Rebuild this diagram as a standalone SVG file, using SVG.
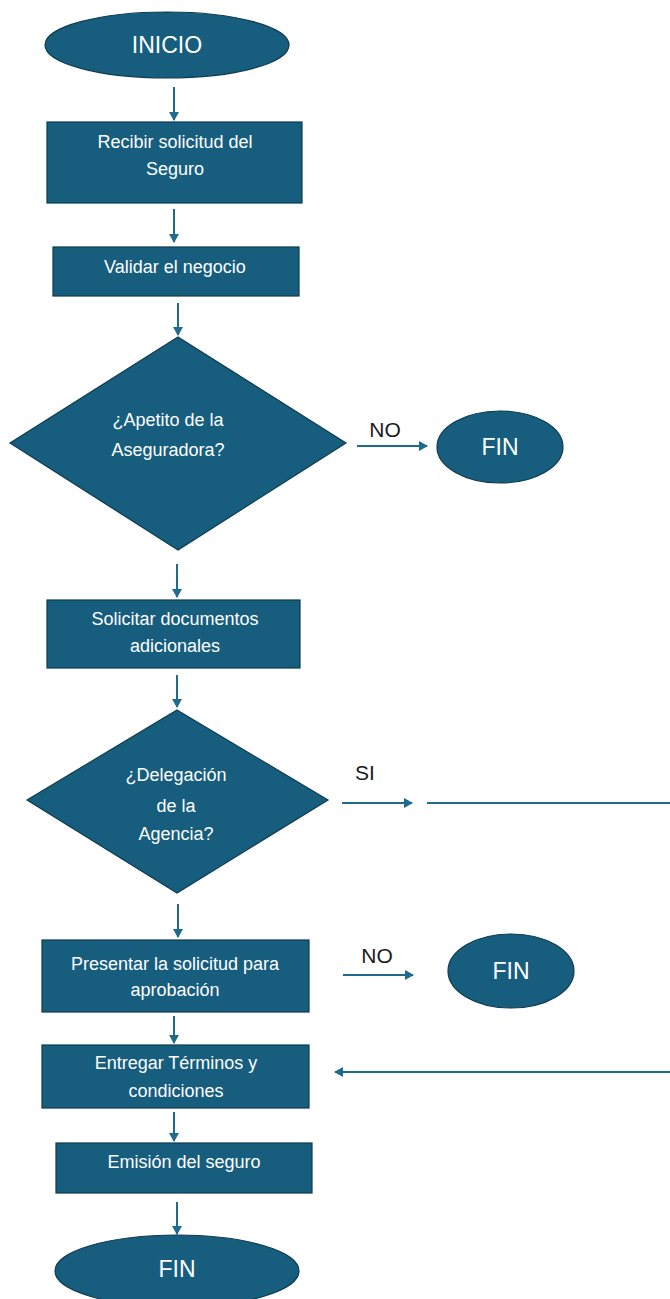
<svg xmlns="http://www.w3.org/2000/svg" width="670" height="1299" viewBox="0 0 670 1299">
<style>
.shape{fill:#165d7e;stroke:#0d3b50;stroke-width:1.2}
.t{fill:#ffffff;font-family:"Liberation Sans",Arial,sans-serif;font-size:18px;text-anchor:middle}
.big{fill:#ffffff;font-family:"Liberation Sans",Arial,sans-serif;font-size:23px;text-anchor:middle}
.lbl{fill:#1a1a1a;font-family:"Liberation Sans",Arial,sans-serif;font-size:21px;text-anchor:middle}
.c{stroke:#1f6b90;stroke-width:2;fill:none}
</style>
<defs>
<marker id="ah" markerWidth="10" markerHeight="10" refX="8" refY="5" orient="auto" markerUnits="userSpaceOnUse">
<path d="M0,0 L9,5 L0,10 Z" fill="#1f6b90"/>
</marker>
</defs>
<rect width="670" height="1299" fill="#ffffff"/>
<g id="connectors">
<line class="c" x1="174" y1="87" x2="174" y2="120" marker-end="url(#ah)"/>
<line class="c" x1="174" y1="209" x2="174" y2="242" marker-end="url(#ah)"/>
<line class="c" x1="178" y1="303" x2="178" y2="335" marker-end="url(#ah)"/>
<line class="c" x1="357" y1="446" x2="427" y2="446" marker-end="url(#ah)"/>
<line class="c" x1="177" y1="564" x2="177" y2="597" marker-end="url(#ah)"/>
<line class="c" x1="177" y1="675" x2="177" y2="707" marker-end="url(#ah)"/>
<line class="c" x1="342" y1="803" x2="412" y2="803" marker-end="url(#ah)"/>
<line class="c" x1="427" y1="803" x2="670" y2="803"/>
<line class="c" x1="178" y1="904" x2="178" y2="937" marker-end="url(#ah)"/>
<line class="c" x1="343" y1="975" x2="413" y2="975" marker-end="url(#ah)"/>
<line class="c" x1="174" y1="1016" x2="174" y2="1043" marker-end="url(#ah)"/>
<line class="c" x1="670" y1="1072" x2="335" y2="1072" marker-end="url(#ah)"/>
<line class="c" x1="174" y1="1112" x2="174" y2="1141" marker-end="url(#ah)"/>
<line class="c" x1="177" y1="1202" x2="177" y2="1234" marker-end="url(#ah)"/>
<text class="lbl" x="385" y="437">NO</text>
<text class="lbl" x="365" y="780">SI</text>
<text class="lbl" x="377" y="963">NO</text>
</g>
<g id="inicio">
<ellipse class="shape" cx="167" cy="45" rx="122" ry="33"/>
<text class="big" x="167" y="53">INICIO</text>
</g>
<g id="recibir">
<rect class="shape" x="47" y="122" width="255" height="81"/>
<text class="t" x="175" y="148">Recibir solicitud del</text>
<text class="t" x="175" y="175">Seguro</text>
</g>
<g id="validar">
<rect class="shape" x="53" y="247" width="246" height="49"/>
<text class="t" x="175" y="273">Validar el negocio</text>
</g>
<g id="apetito">
<polygon class="shape" points="178,337 346,443 178,550 10,443"/>
<text class="t" x="168" y="426">¿Apetito de la</text>
<text class="t" x="168" y="456">Aseguradora?</text>
</g>
<g id="fin1">
<ellipse class="shape" cx="500" cy="447" rx="63" ry="36"/>
<text class="big" x="500" y="455">FIN</text>
</g>
<g id="solicitar">
<rect class="shape" x="47" y="600" width="253" height="68"/>
<text class="t" x="175" y="625">Solicitar documentos</text>
<text class="t" x="175" y="652">adicionales</text>
</g>
<g id="delegacion">
<polygon class="shape" points="177,710 328,800 177,893 27,800"/>
<text class="t" x="176" y="781">¿Delegación</text>
<text class="t" x="176" y="812">de la</text>
<text class="t" x="176" y="840">Agencia?</text>
</g>
<g id="presentar">
<rect class="shape" x="42" y="940" width="267" height="72"/>
<text class="t" x="175" y="970">Presentar la solicitud para</text>
<text class="t" x="175" y="996">aprobación</text>
</g>
<g id="fin2">
<ellipse class="shape" cx="511" cy="971" rx="63" ry="37"/>
<text class="big" x="511" y="979">FIN</text>
</g>
<g id="entregar">
<rect class="shape" x="42" y="1045" width="267" height="63"/>
<text class="t" x="176" y="1069">Entregar Términos y</text>
<text class="t" x="176" y="1097">condiciones</text>
</g>
<g id="emision">
<rect class="shape" x="56" y="1143" width="256" height="50"/>
<text class="t" x="184" y="1168">Emisión del seguro</text>
</g>
<g id="fin3">
<ellipse class="shape" cx="177" cy="1271" rx="122" ry="36"/>
<text class="big" x="177" y="1277">FIN</text>
</g>
</svg>
